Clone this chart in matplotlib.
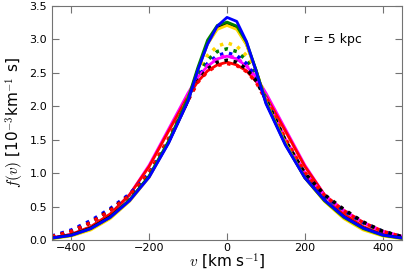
import matplotlib
matplotlib.use("Agg")
import matplotlib.pyplot as plt

plt.rcParams['mathtext.fontset'] = 'cm'

# velocity grid [km/s]
v = [-450, -400, -350, -300, -250, -200, -150, -100, -75, -50, -25, 0,
     25, 50, 75, 100, 150, 200, 250, 300, 350, 400, 450]

# solid curves (narrow group)
f_blue = [0.03, 0.07, 0.17, 0.34, 0.59, 0.94, 1.45, 2.08, 2.54, 2.93, 3.20, 3.33,
          3.27, 2.97, 2.52, 2.04, 1.42, 0.93, 0.60, 0.35, 0.18, 0.075, 0.03]
f_green = [0.025, 0.07, 0.17, 0.34, 0.60, 0.96, 1.48, 2.12, 2.58, 2.99, 3.21, 3.26,
           3.20, 2.96, 2.54, 2.06, 1.43, 0.93, 0.59, 0.34, 0.17, 0.07, 0.025]
f_black = [0.03, 0.075, 0.18, 0.35, 0.60, 0.95, 1.46, 2.08, 2.55, 2.94, 3.17, 3.23,
           3.17, 2.93, 2.53, 2.06, 1.44, 0.94, 0.60, 0.35, 0.18, 0.075, 0.03]
f_yellow = [0.02, 0.06, 0.15, 0.32, 0.58, 0.94, 1.47, 2.10, 2.55, 2.93, 3.15, 3.21,
            3.15, 2.92, 2.53, 2.07, 1.45, 0.93, 0.58, 0.32, 0.15, 0.06, 0.02]

# solid curves (broad group)
f_magenta = [0.03, 0.085, 0.19, 0.38, 0.68, 1.12, 1.66, 2.20, 2.44, 2.60, 2.71, 2.75,
             2.71, 2.60, 2.44, 2.20, 1.66, 1.12, 0.68, 0.38, 0.19, 0.085, 0.03]
f_red = [0.03, 0.085, 0.20, 0.39, 0.68, 1.10, 1.63, 2.15, 2.37, 2.53, 2.62, 2.66,
         2.62, 2.53, 2.37, 2.15, 1.63, 1.10, 0.68, 0.39, 0.20, 0.085, 0.03]

# dotted curves
d_yellow = [0.05, 0.13, 0.26, 0.44, 0.66, 0.98, 1.48, 2.13, 2.50, 2.76, 2.90, 2.95,
            2.90, 2.76, 2.50, 2.13, 1.48, 0.98, 0.66, 0.44, 0.26, 0.13, 0.05]
d_green = [0.05, 0.13, 0.26, 0.44, 0.66, 0.98, 1.48, 2.12, 2.46, 2.69, 2.82, 2.86,
           2.82, 2.69, 2.46, 2.12, 1.48, 0.98, 0.66, 0.44, 0.26, 0.13, 0.05]
d_blue = [0.06, 0.15, 0.29, 0.47, 0.69, 1.00, 1.48, 2.11, 2.43, 2.64, 2.76, 2.80,
          2.76, 2.64, 2.43, 2.11, 1.48, 0.98, 0.66, 0.44, 0.26, 0.13, 0.05]
d_magenta = [0.05, 0.13, 0.26, 0.44, 0.67, 1.00, 1.50, 2.11, 2.41, 2.61, 2.72, 2.76,
             2.72, 2.61, 2.41, 2.11, 1.50, 1.00, 0.67, 0.44, 0.26, 0.13, 0.05]
d_black = [0.05, 0.13, 0.26, 0.45, 0.67, 0.99, 1.49, 2.10, 2.38, 2.56, 2.66, 2.69,
           2.66, 2.56, 2.38, 2.10, 1.49, 1.00, 0.68, 0.46, 0.27, 0.13, 0.05]
d_red = [0.05, 0.13, 0.26, 0.44, 0.67, 1.01, 1.52, 2.09, 2.36, 2.52, 2.61, 2.64,
         2.61, 2.52, 2.36, 2.09, 1.52, 1.01, 0.67, 0.44, 0.26, 0.13, 0.05]

fig = plt.figure(figsize=(4.15, 2.74), dpi=100)
ax = fig.add_axes([0.125, 0.124, 0.844, 0.854])

lw = 2.0
ax.plot(v, f_magenta, '-', color='magenta', lw=lw)
ax.plot(v, f_red, '-', color='red', lw=lw)
for f, c in [(d_yellow, 'gold'), (d_green, 'green'), (d_blue, 'blue'),
             (d_magenta, 'magenta'), (d_black, 'black'), (d_red, 'red')]:
    ax.plot(v, f, ':', color=c, lw=2.5)
ax.plot(v, f_black, '-', color='black', lw=lw)
ax.plot(v, f_yellow, '-', color='gold', lw=lw)
ax.plot(v, f_green, '-', color='green', lw=lw)
ax.plot(v, f_blue, '-', color='blue', lw=lw)

ax.set_xlim(-450, 450)
ax.set_ylim(0, 3.5)
ax.set_xticks([-400, -200, 0, 200, 400])
ax.set_yticks([0.0, 0.5, 1.0, 1.5, 2.0, 2.5, 3.0, 3.5])
ax.tick_params(direction='in', top=True, right=True, labelsize=8,
               length=5, color='0.45')
ax.tick_params(axis='x', pad=2)
for s in ax.spines.values():
    s.set_color('0.45')

ax.set_xlabel(r'$v$ [km s$^{-1}$]', fontsize=11, labelpad=-1)
ax.set_ylabel(r'$f(v)$ [10$^{-3}$km$^{-1}$ s]', fontsize=11, labelpad=2)
ax.text(0.72, 0.855, 'r = 5 kpc', transform=ax.transAxes, fontsize=9,
        va='center')

fig.savefig('out.png', dpi=100)
